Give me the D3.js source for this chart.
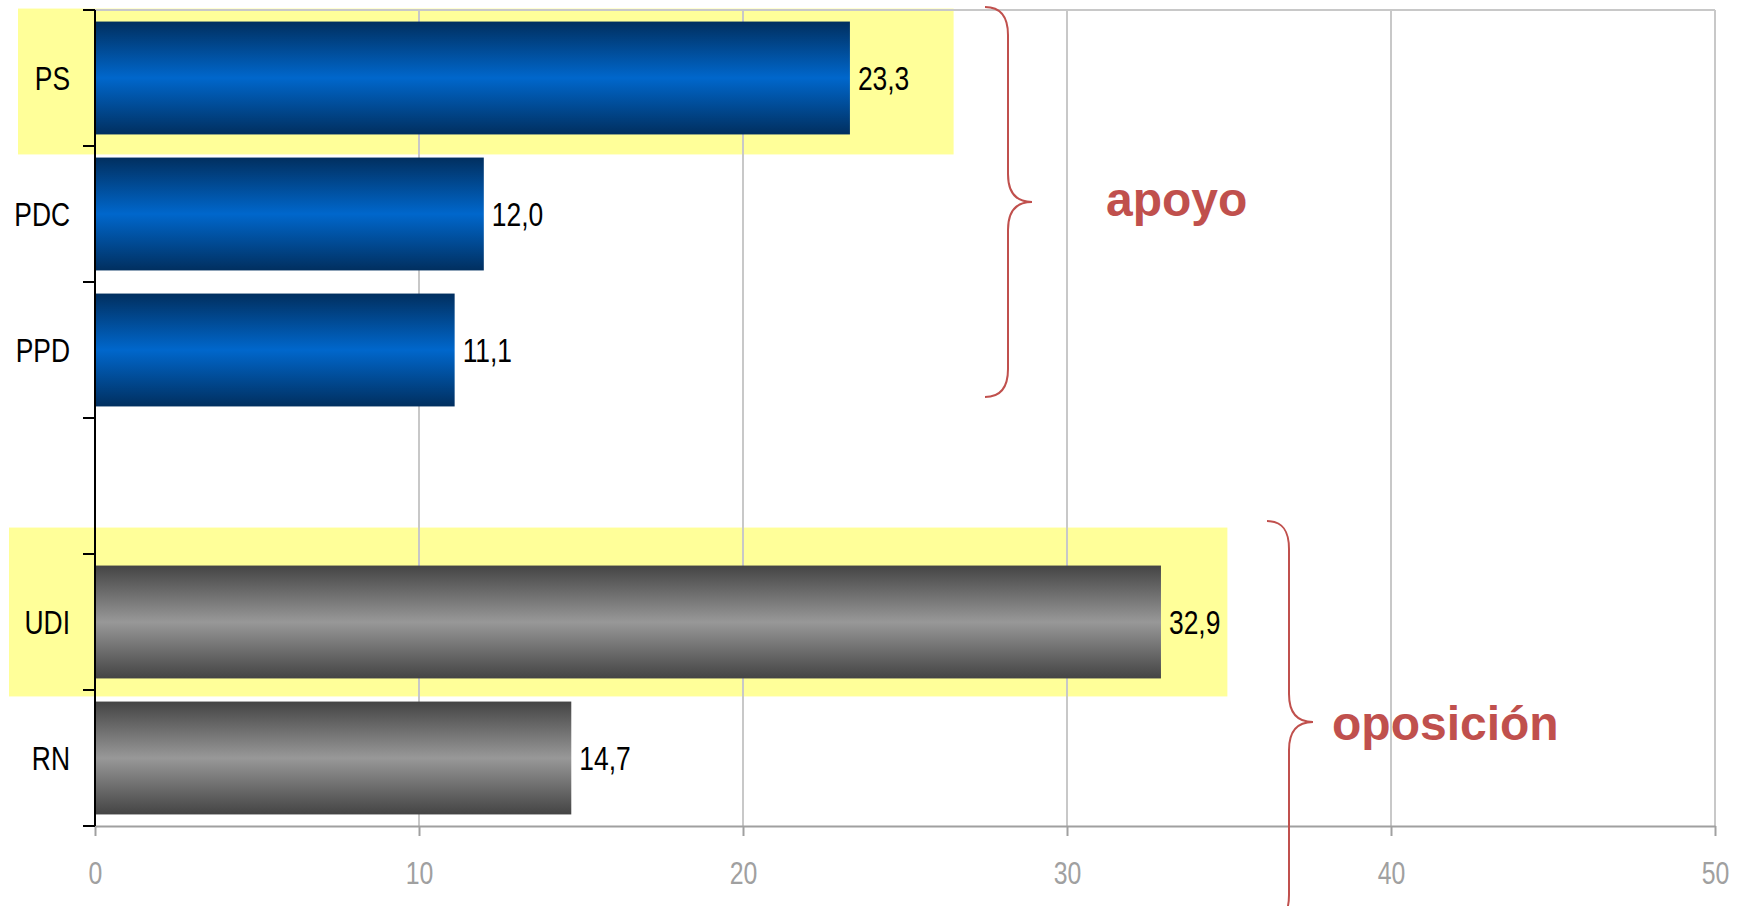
<!DOCTYPE html>
<html><head><meta charset="utf-8">
<script src="https://cdn.jsdelivr.net/npm/d3@7/dist/d3.min.js"></script>
<style>html,body{margin:0;padding:0;background:#fff;overflow:hidden}</style>
</head><body>
<svg id="chart" width="1738" height="906"></svg>
<script>
// ---- data ----
const categories = ["PS", "PDC", "PPD", "", "UDI", "RN"];
const values = [23.3, 12.0, 11.1, null, 32.9, 14.7];
const groupOf = ["apoyo", "apoyo", "apoyo", null, "oposición", "oposición"];
const highlighted = ["PS", "UDI"];
const xTicks = [0, 10, 20, 30, 40, 50];
const groupLabels = ["apoyo", "oposición"];

// ---- layout ----
const W = 1738, H = 906;
const plot = {left: 95, right: 1715, top: 10, bottom: 826};
const sans = "'Liberation Sans', Arial, sans-serif";
const squeeze = 0.8;   // narrow (condensed) look
const red = "#C0504D";

const svg = d3.select("#chart");
svg.append("rect").attr("width", W).attr("height", H).attr("fill", "#fff");

const x = d3.scaleLinear().domain([0, 50]).range([plot.left, plot.right]);
const y = d3.scaleBand().domain(d3.range(categories.length))
  .range([plot.top, plot.bottom]).paddingInner(0.17).paddingOuter(0.085);
const step = y.step();

// condensed text helper
function narrowText(sel, px, py, txt, size, anchor, fill) {
  sel.append("g").attr("transform", `translate(${px},${py}) scale(${squeeze},1)`)
    .append("text").attr("text-anchor", anchor).attr("dy", "0.36em")
    .attr("font-family", sans).attr("font-size", size).attr("fill", fill).text(txt);
}

// gradients
const defs = svg.append("defs");
function grad(id, edge, mid) {
  const g = defs.append("linearGradient").attr("id", id)
    .attr("x1", 0).attr("y1", 0).attr("x2", 0).attr("y2", 1);
  g.append("stop").attr("offset", "0%").attr("stop-color", edge);
  g.append("stop").attr("offset", "50%").attr("stop-color", mid);
  g.append("stop").attr("offset", "100%").attr("stop-color", edge);
}
grad("gBlue", "#012f5f", "#0067cc");
grad("gGray", "#444444", "#989898");

// highlight boxes (behind everything)
const hlSpec = {PS: {left: 18, right: 26.5, above: 13, below: 20}, UDI: {left: 9, right: 34.95, above: 38, below: 18}};
highlighted.forEach(c => {
  const i = categories.indexOf(c), s = hlSpec[c];
  svg.append("rect")
    .attr("x", s.left).attr("y", y(i) - s.above)
    .attr("width", x(s.right) - s.left)
    .attr("height", y.bandwidth() + s.above + s.below)
    .attr("fill", "#FFFF99");
});

// gridlines + top border
svg.append("g").selectAll("line").data(xTicks.filter(d => d > 0)).join("line")
  .attr("x1", d => x(d)).attr("x2", d => x(d))
  .attr("y1", plot.top).attr("y2", plot.bottom)
  .attr("stroke", "#c8c8c8").attr("stroke-width", 2);
svg.append("line").attr("x1", plot.left).attr("x2", plot.right)
  .attr("y1", plot.top).attr("y2", plot.top)
  .attr("stroke", "#c8c8c8").attr("stroke-width", 2);

// bars
const rows = categories.map((c, i) => ({c, i, v: values[i], g: groupOf[i]})).filter(d => d.v != null);
svg.append("g").selectAll("rect").data(rows).join("rect")
  .attr("x", x(0)).attr("y", d => y(d.i))
  .attr("width", d => x(d.v) - x(0)).attr("height", y.bandwidth())
  .attr("fill", d => d.g === "apoyo" ? "url(#gBlue)" : "url(#gGray)");

// value labels
const fmt = v => d3.format(".1f")(v).replace(".", ",");
const vl = svg.append("g");
rows.forEach(d => narrowText(vl, x(d.v) + 8, y(d.i) + y.bandwidth() / 2, fmt(d.v), 33, "start", "#000"));

// x axis
const xAxis = svg.append("g").attr("transform", `translate(0,${plot.bottom})`)
  .call(d3.axisBottom(x).tickValues(xTicks).tickSize(10).tickSizeOuter(0).tickFormat(""));
xAxis.select(".domain").attr("stroke", "#a0a0a0").attr("stroke-width", 2);
xAxis.selectAll(".tick line").attr("stroke", "#a0a0a0").attr("stroke-width", 2);
xAxis.selectAll(".tick").each(function(d) {
  narrowText(d3.select(this), 0, 47, String(d), 31, "middle", "#a0a0a0");
});

// y axis (band boundaries)
const bounds = d3.range(categories.length + 1).map(k => plot.top + k * step);
const yg = svg.append("g");
yg.append("line").attr("x1", plot.left).attr("x2", plot.left)
  .attr("y1", plot.top).attr("y2", plot.bottom).attr("stroke", "#000").attr("stroke-width", 2);
yg.selectAll(".yt").data(bounds).join("line").attr("class", "yt")
  .attr("x1", plot.left - 12).attr("x2", plot.left)
  .attr("y1", d => d).attr("y2", d => d).attr("stroke", "#000").attr("stroke-width", 2);
categories.forEach((c, i) => {
  if (c) narrowText(yg, 70, y(i) + y.bandwidth() / 2, c, 33, "end", "#000");
});

// braces
function brace(xl, xm, xt, yTop, yTip, yBot) {
  const r = 28;
  return `M${xl},${yTop} C${xl + 16},${yTop} ${xm},${yTop + 10} ${xm},${yTop + r}` +
    ` L${xm},${yTip - r}` +
    ` C${xm},${yTip - 10} ${xt - 16},${yTip} ${xt},${yTip}` +
    ` C${xt - 16},${yTip} ${xm},${yTip + 10} ${xm},${yTip + r}` +
    ` L${xm},${yBot - r}` +
    ` C${xm},${yBot - 10} ${xl + 16},${yBot} ${xl},${yBot}`;
}
const braceSpec = [
  {label: groupLabels[0], xl: 985, xm: 1008, xt: 1032, yTop: 7, yTip: 202, yBot: 397, tx: 1106, ty: 216},
  {label: groupLabels[1], xl: 1267, xm: 1289, xt: 1313, yTop: 521, yTip: 722, yBot: 923, tx: 1332, ty: 740}
];
braceSpec.forEach(b => {
  svg.append("path").attr("d", brace(b.xl, b.xm, b.xt, b.yTop, b.yTip, b.yBot))
    .attr("fill", "none").attr("stroke", red).attr("stroke-width", 2);
  svg.append("text").attr("x", b.tx).attr("y", b.ty)
    .attr("font-family", sans).attr("font-weight", "bold")
    .attr("font-size", 48).attr("fill", red).text(b.label);
});
</script>
</body></html>
